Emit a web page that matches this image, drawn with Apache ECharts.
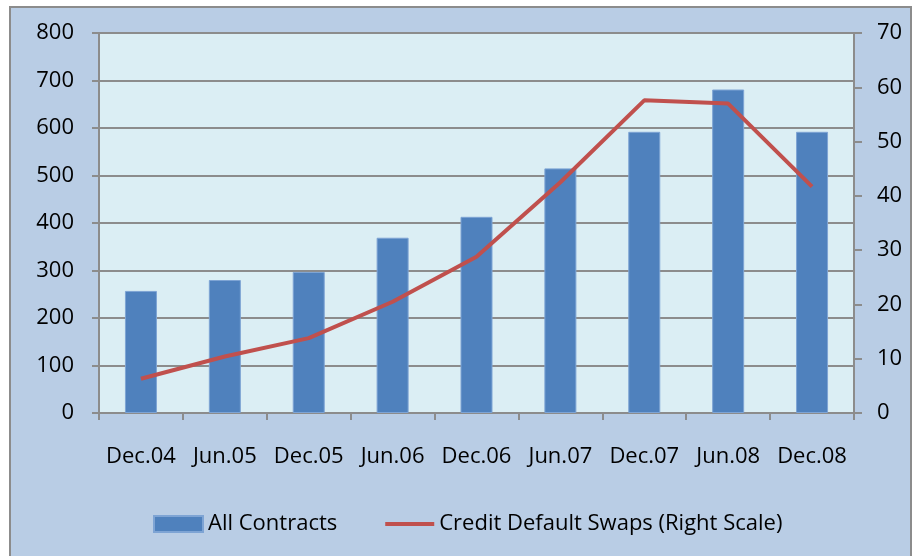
<!DOCTYPE html>
<html>
<head>
<meta charset="utf-8">
<script src="https://cdn.jsdelivr.net/npm/echarts@6/dist/echarts.min.js"></script>
<style>
  body { margin: 0; background: #ffffff; width: 920px; height: 556px; overflow: hidden; position: relative; }
  #frame { position: absolute; left: 9px; top: 6px; width: 903px; height: 600px; box-sizing: border-box; background: #b9cde5; border: 2px solid #8c8c8c; }
  #chart { position: absolute; left: 0; top: 0; width: 920px; height: 556px; }
</style>
</head>
<body>
<div id="frame"></div>
<div id="chart"></div>
<script>
var categories = ['Dec.04', 'Jun.05', 'Dec.05', 'Jun.06', 'Dec.06', 'Jun.07', 'Dec.07', 'Jun.08', 'Dec.08'];
var allContracts = [257, 280, 297, 369, 413, 515, 592, 681, 592];
var creditDefaultSwaps = [6.3, 10.4, 13.8, 20.5, 28.8, 42.5, 57.6, 57.0, 41.7];

var myChart = echarts.init(document.getElementById('chart'));
var fontFamily = '"Open Sans", sans-serif';

var option = {
  backgroundColor: 'transparent',
  textStyle: { fontFamily: fontFamily },
  animation: false,
  legend: {
    left: 148,
    top: 508,
    itemWidth: 49,
    itemHeight: 16,
    itemGap: 46,
    textStyle: { fontSize: 22, color: '#000', fontFamily: fontFamily },
    data: [
      { name: 'All Contracts', icon: 'rect' },
      { name: 'Credit Default Swaps (Right Scale)', itemStyle: { opacity: 0 }, lineStyle: { width: 4, color: '#c0504d' } }
    ]
  },
  grid: {
    left: 99,
    top: 33,
    right: 66,
    bottom: 143,
    show: true,
    backgroundColor: '#dbeef4',
    borderWidth: 0
  },
  xAxis: {
    type: 'category',
    data: categories,
    axisLine: { lineStyle: { color: '#8c8c8c', width: 2 } },
    axisTick: { show: true, length: 7, lineStyle: { color: '#8c8c8c', width: 2 } },
    axisLabel: { color: '#000', fontSize: 22, margin: 33, interval: 0, fontFamily: fontFamily }
  },
  yAxis: [
    {
      type: 'value',
      min: 0,
      max: 800,
      interval: 100,
      axisLine: { show: true, lineStyle: { color: '#8c8c8c', width: 2 } },
      axisTick: { show: true, length: 7, lineStyle: { color: '#8c8c8c', width: 2 } },
      splitLine: { lineStyle: { color: '#8c8c8c', width: 2 } },
      axisLabel: { color: '#000', fontSize: 22, margin: 25, fontFamily: fontFamily }
    },
    {
      type: 'value',
      min: 0,
      max: 70,
      interval: 10,
      position: 'right',
      axisLine: { show: true, lineStyle: { color: '#8c8c8c', width: 2 } },
      axisTick: { show: true, length: 8, lineStyle: { color: '#8c8c8c', width: 2 } },
      splitLine: { show: false },
      axisLabel: { color: '#000', fontSize: 22, margin: 23, fontFamily: fontFamily }
    }
  ],
  series: [
    {
      name: 'All Contracts',
      type: 'bar',
      yAxisIndex: 0,
      barWidth: 32,
      itemStyle: { color: '#4f81bd', borderColor: '#7ea4d4', borderWidth: 1 },
      data: allContracts
    },
    {
      name: 'Credit Default Swaps (Right Scale)',
      type: 'line',
      yAxisIndex: 1,
      symbol: 'none',
      color: '#c0504d',
      lineStyle: { color: '#c0504d', width: 4 },
      data: creditDefaultSwaps
    }
  ]
};

option && myChart.setOption(option);
</script>
</body>
</html>
